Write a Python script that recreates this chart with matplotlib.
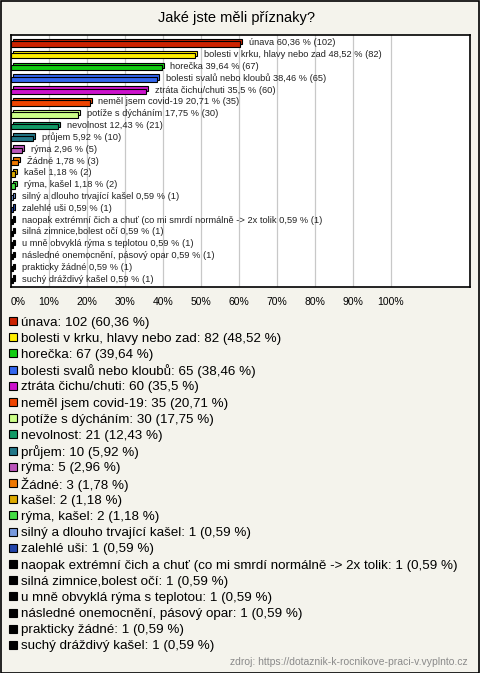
import matplotlib
matplotlib.use("Agg")
import matplotlib.pyplot as plt
from matplotlib.patches import Rectangle

plt.rcParams['font.family'] = ['Liberation Sans', 'DejaVu Sans']

title = "Jaké jste měli příznaky?"
categories = [
    "únava", "bolesti v krku, hlavy nebo zad", "horečka", "bolesti svalů nebo kloubů",
    "ztráta čichu/chuti", "neměl jsem covid-19", "potíže s dýcháním", "nevolnost",
    "průjem", "rýma", "Žádné", "kašel", "rýma, kašel", "silný a dlouho trvající kašel",
    "zalehlé uši", "naopak extrémní čich a chuť (co mi smrdí normálně -> 2x tolik",
    "silná zimnice,bolest očí", "u mně obvyklá rýma s teplotou",
    "následné onemocnění, pásový opar", "prakticky žádné", "suchý dráždivý kašel",
]
counts = [102, 82, 67, 65, 60, 35, 30, 21, 10, 5, 3, 2, 2, 1, 1, 1, 1, 1, 1, 1, 1]
percents = ["60,36", "48,52", "39,64", "38,46", "35,5", "20,71", "17,75", "12,43",
            "5,92", "2,96", "1,78", "1,18", "1,18", "0,59", "0,59", "0,59", "0,59",
            "0,59", "0,59", "0,59", "0,59"]
colors = ["#CC2200", "#FFEE00", "#11CC11", "#3366EE", "#CC11CC", "#EE4400", "#CCFF88",
          "#119966", "#227788", "#BB55BB", "#EE7700", "#DDAA00", "#44DD44", "#7799DD",
          "#2244AA", "#000000", "#000000", "#000000", "#000000", "#000000", "#000000"]
xticks = [0, 10, 20, 30, 40, 50, 60, 70, 80, 90, 100]
source = "zdroj: https://dotaznik-k-rocnikove-praci-v.vyplnto.cz"

W, H = 480, 673
bg = "#F4F3EC"
fig = plt.figure(figsize=(W / 100, H / 100), dpi=100, facecolor=bg)
fig.add_artist(Rectangle((0.5 / W, 0.5 / H), 1 - 1.5 / W, 1 - 1.5 / H, transform=fig.transFigure,
                         fill=False, edgecolor="black", lw=1.2))

fig.text(236 / W, 1 - 18 / H, title, ha="center", va="center", fontsize=10.5)

ax = fig.add_axes([11 / W, 1 - 287 / H, (470 - 11) / W, (287 - 35) / H])
ax.set_facecolor("white")
n = len(categories)
vals = [float(p.replace(",", ".")) for p in percents]
ys = list(range(n))
dx, dy = 0.5, 0.2
ax.barh([y - dy for y in ys], vals, left=dx, height=0.45, color=colors,
        edgecolor="black", linewidth=0.8, zorder=2)
ax.barh(ys, vals, height=0.45, color=colors, edgecolor="black", linewidth=0.8, zorder=3)
for y, v, c, p, k in zip(ys, vals, categories, percents, counts):
    ax.text(v + 2.3, y - 0.1, f"{c} {p} % ({k})", va="center", ha="left", fontsize=6.65,
            color="#222222", zorder=4)
ax.set_xlim(0, 120.8)
ax.set_ylim(n - 0.45, -0.75)
ax.set_xticks(xticks)
ax.set_xticklabels([f"{t}%" for t in xticks], fontsize=7.5)
ax.tick_params(axis="x", length=0, pad=7)
ax.set_yticks([])
ax.grid(axis="x", color="#C8C8C8", lw=0.9, zorder=0)
ax.set_axisbelow(True)
for s in ax.spines.values():
    s.set_linewidth(1.2)
lbls = ax.get_xticklabels()
lbls[0].set_horizontalalignment("left")

# legend, one row every 16.2 px
for i, (c, k, p, col) in enumerate(zip(categories, counts, percents, colors)):
    yc = 321 + i * 16.2
    fig.add_artist(Rectangle((9 / W, 1 - (yc + 4) / H), 8 / W, 8 / H, transform=fig.transFigure,
                             facecolor=col, edgecolor="black", lw=0.8))
    fig.text(21 / W, 1 - yc / H, f"{c}: {k} ({p} %)", ha="left", va="center_baseline",
             fontsize=9.6)

fig.text(468 / W, 1 - 662 / H, source, ha="right", va="center", fontsize=7.5, color="#8A8A8A")

fig.savefig("out.png", dpi=100, facecolor=bg)
